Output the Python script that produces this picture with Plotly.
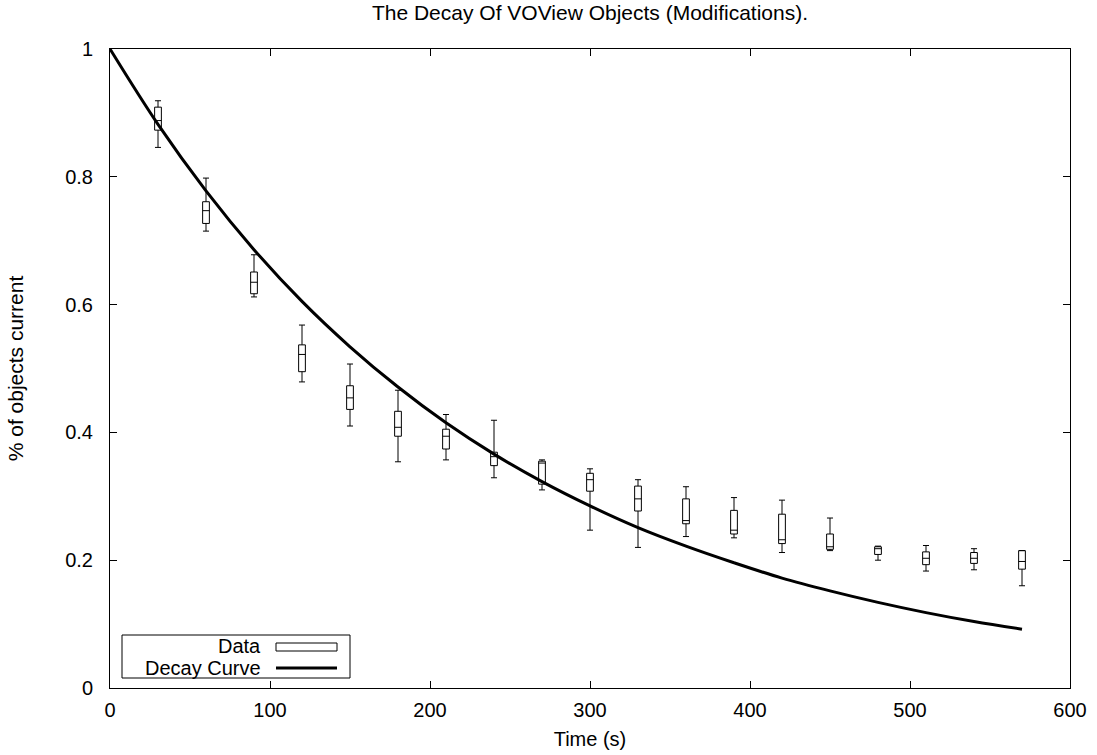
import plotly.graph_objects as go

# ---- data ----
times = [30, 60, 90, 120, 150, 180, 210, 240, 270, 300, 330, 360, 390, 420, 450, 480, 510, 540, 570]
whisker_low = [0.846, 0.715, 0.612, 0.479, 0.410, 0.354, 0.357, 0.329, 0.310, 0.247, 0.220, 0.237, 0.235, 0.212, 0.215, 0.200, 0.183, 0.185, 0.160]
box_low     = [0.873, 0.727, 0.617, 0.495, 0.436, 0.394, 0.374, 0.348, 0.319, 0.308, 0.277, 0.257, 0.241, 0.226, 0.217, 0.209, 0.193, 0.195, 0.186]
median      = [0.888, 0.747, 0.635, 0.522, 0.454, 0.408, 0.394, 0.362, 0.352, 0.326, 0.296, 0.262, 0.247, 0.232, 0.221, 0.218, 0.203, 0.203, 0.198]
box_high    = [0.909, 0.761, 0.651, 0.537, 0.473, 0.433, 0.405, 0.369, 0.355, 0.336, 0.316, 0.296, 0.278, 0.272, 0.241, 0.221, 0.213, 0.212, 0.215]
whisker_high= [0.919, 0.798, 0.678, 0.568, 0.507, 0.466, 0.428, 0.419, 0.357, 0.343, 0.326, 0.315, 0.298, 0.294, 0.266, 0.222, 0.223, 0.218, 0.215]

curve_t = [0, 30, 60, 90, 120, 150, 180, 210, 240, 270, 300, 330, 360, 390, 420, 450, 480, 510, 540, 570]
curve_v = [1.0, 0.882, 0.778, 0.686, 0.605, 0.534, 0.471, 0.415, 0.366, 0.323, 0.285, 0.251, 0.222, 0.196, 0.172, 0.152, 0.134, 0.118, 0.104, 0.092]

x_ticks = [0, 100, 200, 300, 400, 500, 600]
y_ticks = [0, 0.2, 0.4, 0.6, 0.8, 1]
y_tick_text = ["0", "0.2", "0.4", "0.6", "0.8", "1"]

FONT = "Liberation Sans, Arial, Helvetica, sans-serif"

fig = go.Figure()
fig.add_trace(go.Box(
    x=times, q1=box_low, median=median, q3=box_high,
    lowerfence=whisker_low, upperfence=whisker_high,
    width=4.2, whiskerwidth=0.9,
    fillcolor="white", line=dict(color="black", width=1),
    boxpoints=False, showlegend=False, hoverinfo="skip", name="Data",
))
fig.add_trace(go.Scatter(
    x=curve_t, y=curve_v, mode="lines", line=dict(color="black", width=3, shape="spline"),
    showlegend=False, hoverinfo="skip", name="Decay Curve",
))

axis_common = dict(
    showline=True, linecolor="black", linewidth=1, mirror="allticks",
    ticks="inside", ticklen=7, tickcolor="black", tickwidth=1,
    showgrid=False, zeroline=False, automargin=False,
    tickfont=dict(family=FONT, size=20, color="black"),
)
fig.update_xaxes(range=[0, 600], tickvals=x_ticks, ticklabelstandoff=4,
                 title=dict(text="Time (s)", font=dict(family=FONT, size=20, color="black"), standoff=11),
                 **axis_common)
fig.update_yaxes(range=[0, 1], tickvals=y_ticks, ticktext=y_tick_text, ticklabelstandoff=12,
                 title=dict(text="% of objects current", font=dict(family=FONT, size=21, color="black"), standoff=35),
                 **axis_common)

# manual gnuplot-style legend (key)
def px(xp):
    return (xp - 110) / 960.0
def py(yp):
    return (688 - yp) / 639.0

shapes = [
    dict(type="rect", xref="paper", yref="paper", x0=px(122), x1=px(350), y0=py(678), y1=py(635),
         line=dict(color="black", width=1), fillcolor="white", layer="above"),
    dict(type="rect", xref="paper", yref="paper", x0=px(276), x1=px(337), y0=py(651), y1=py(643),
         line=dict(color="black", width=1), fillcolor="white", layer="above"),
    dict(type="line", xref="paper", yref="paper", x0=px(276), x1=px(337), y0=py(668), y1=py(668),
         line=dict(color="black", width=3), layer="above"),
]
annotations = [
    dict(text="Data", xref="paper", yref="paper", x=px(263), y=py(646), xanchor="right", yanchor="middle",
         showarrow=False, font=dict(family=FONT, size=20, color="black")),
    dict(text="Decay Curve", xref="paper", yref="paper", x=px(263), y=py(668), xanchor="right", yanchor="middle",
         showarrow=False, font=dict(family=FONT, size=20, color="black")),
]

fig.update_layout(
    width=1097, height=755,
    margin=dict(l=110, r=27, t=49, b=67, autoexpand=False),
    paper_bgcolor="white", plot_bgcolor="white",
    title=dict(text="The Decay Of VOView Objects (Modifications).", x=0.5, xref="paper",
               y=1 - 5 / 755, yref="container", yanchor="top",
               font=dict(family=FONT, size=21, color="black")),
    shapes=shapes, annotations=annotations,
    showlegend=False,
)

fig.write_html("out.html")
